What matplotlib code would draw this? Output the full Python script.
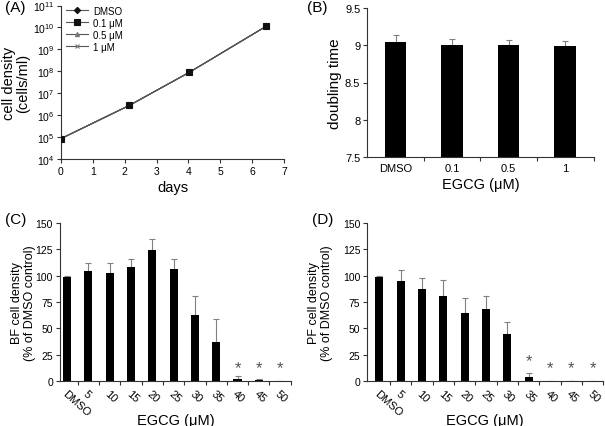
import matplotlib
matplotlib.use("Agg")
import matplotlib.pyplot as plt
import numpy as np
from matplotlib.ticker import FixedLocator, FormatStrFormatter

plt.rcParams["font.family"] = ["Liberation Sans", "DejaVu Sans"]
plt.rcParams["mathtext.fontset"] = "custom"
plt.rcParams["mathtext.rm"] = "Liberation Sans"

# (A) growth curve, all four treatments overlap
growth_days = [0, 2.15, 4.03, 6.45]
growth_density = [8.5e4, 2.8e6, 9.0e7, 1.15e10]
growth_series = ["DMSO", "0.1 μM", "0.5 μM", "1 μM"]

# (B) doubling time
dbl_labels = ["DMSO", "0.1", "0.5", "1"]
dbl_values = [9.05, 9.01, 9.01, 8.99]
dbl_err = [0.09, 0.08, 0.06, 0.07]

# (C) BF and (D) PF cell density, % of DMSO control
conc_labels = ["DMSO", "5", "10", "15", "20", "25", "30", "35", "40", "45", "50"]
bf_values = [98.5, 104, 103, 108, 124, 106, 63, 37, 1.5, 0.8, 0]
bf_err = [1, 8, 9, 8, 11, 10, 18, 22, 3, 1.5, 0]
bf_stars = ["40", "45", "50"]
pf_values = [99, 95, 87.5, 81, 64.5, 68, 44.5, 3.5, 0, 0, 0]
pf_err = [0.7, 10, 10, 15, 14, 13, 11.5, 4, 0, 0, 0]
pf_stars = ["35", "40", "45", "50"]

W, H = 605, 427
fig = plt.figure(figsize=(W / 100, H / 100), dpi=100)


def px_axes(left, top, right, bottom):
    return fig.add_axes([left / W, 1 - bottom / H, (right - left) / W, (bottom - top) / H])


def style(ax):
    for s in ("top", "right"):
        ax.spines[s].set_visible(False)
    for s in ("left", "bottom"):
        ax.spines[s].set_linewidth(0.8)
        ax.spines[s].set_color("#333333")
    ax.tick_params(direction="out", width=0.8, length=3, color="#333333",
                   labelsize=7.5, pad=2)


def category_bars(ax, labels, values, err, xlim, width, rotate):
    x = np.arange(len(labels))
    ax.bar(x, values, width=width, color="black", zorder=2)
    ax.errorbar(x, values, yerr=[np.zeros(len(x)), err], fmt="none",
                ecolor="#808080", elinewidth=0.8, capsize=2, capthick=0.8, zorder=1)
    ax.set_xlim(*xlim)
    ax.set_xticks(x)
    if rotate:
        ax.set_xticklabels(labels, rotation=-42, ha="left", va="top",
                           rotation_mode="anchor", fontsize=8)
        ax.tick_params(axis="x", which="major", length=0, pad=5)
    else:
        ax.set_xticklabels(labels)
        ax.tick_params(axis="x", which="major", length=0, pad=4)
    ax.set_xticks(x + 0.5, minor=True)
    ax.tick_params(axis="x", which="minor", length=3, width=0.8, color="#333333",
                   direction="out")


# ---- (A)
axA = px_axes(61, 6.5, 284, 160)
style(axA)
markers = {"DMSO": ("D", "#111111", 3.2), "0.1 μM": ("s", "#111111", 3.8),
           "0.5 μM": ("^", "#777777", 3.0), "1 μM": ("x", "#777777", 3.5)}
for name in growth_series:
    m, c, ms = markers[name]
    axA.plot(growth_days, growth_density, color="#555555", lw=0.8, marker=m,
             markersize=ms, markerfacecolor=c, markeredgecolor=c, markeredgewidth=0.8,
             label=name, zorder=4 if name == "0.1 μM" else 3)
axA.set_yscale("log")
axA.set_ylim(1e4, 1e11)
axA.set_xlim(0, 7)
axA.set_xticks(range(8))
axA.yaxis.set_major_locator(FixedLocator([10.0 ** k for k in range(4, 12)]))
axA.set_yticklabels([r"$\mathregular{10^{%d}}$" % k for k in range(4, 12)])
axA.yaxis.set_minor_locator(FixedLocator([]))
axA.set_xlabel("days", fontsize=10.5, labelpad=3)
axA.set_ylabel("cell density\n(cells/ml)", fontsize=10.5, linespacing=0.95)
axA.yaxis.set_label_coords(-0.14, 0.5)
axA.legend(loc="upper left", bbox_to_anchor=(0.0, 1.03), frameon=False, fontsize=7,
           handlelength=2.3, handletextpad=0.5, labelspacing=0.2, borderaxespad=0.1)

# ---- (B)
axB = px_axes(367.3, 9, 593.5, 158)
style(axB)
category_bars(axB, dbl_labels, dbl_values, dbl_err, (-0.5, 3.5), 0.38, False)
axB.set_ylim(7.5, 9.5)
axB.set_yticks([7.5, 8, 8.5, 9, 9.5])
axB.yaxis.set_major_formatter(FormatStrFormatter("%g"))
axB.tick_params(labelsize=8)
axB.set_xlabel("EGCG (μM)", fontsize=10.5, labelpad=3)
axB.set_ylabel("doubling time", fontsize=11)
axB.yaxis.set_label_coords(-0.11, 0.5)

# ---- (C)
axC = px_axes(60, 224, 290.8, 382)
style(axC)
category_bars(axC, conc_labels, bf_values, bf_err, (-0.33, 10.5), 0.38, True)
axC.set_ylim(0, 150)
axC.set_yticks(range(0, 151, 25))
axC.set_xlabel("EGCG (μM)", fontsize=10.5)
axC.xaxis.set_label_coords(0.5, -0.2)
axC.set_ylabel("BF cell density\n(% of DMSO control)", fontsize=9, linespacing=1.15)
axC.yaxis.set_label_coords(-0.104, 0.5)
for lab in bf_stars:
    axC.text(conc_labels.index(lab), 13, "*", ha="center", va="center",
             fontsize=12, color="#555555")

# ---- (D)
axD = px_axes(367.3, 224, 603.3, 382)
style(axD)
category_bars(axD, conc_labels, pf_values, pf_err, (-0.56, 10.5), 0.38, True)
axD.set_ylim(0, 150)
axD.set_yticks(range(0, 151, 25))
axD.set_xlabel("EGCG (μM)", fontsize=10.5)
axD.xaxis.set_label_coords(0.5, -0.2)
axD.set_ylabel("PF cell density\n(% of DMSO control)", fontsize=9, linespacing=1.15)
axD.yaxis.set_label_coords(-0.144, 0.5)
for lab in pf_stars:
    yy = 19 if lab == "35" else 13
    axD.text(conc_labels.index(lab), yy, "*", ha="center", va="center",
             fontsize=12, color="#555555")

# panel letters
for txt, x, y in (("(A)", 5, 8), ("(B)", 307, 8), ("(C)", 5, 220), ("(D)", 312, 220)):
    fig.text(x / W, 1 - y / H, txt, fontsize=11, ha="left", va="center")

fig.savefig("out.png", dpi=100)
